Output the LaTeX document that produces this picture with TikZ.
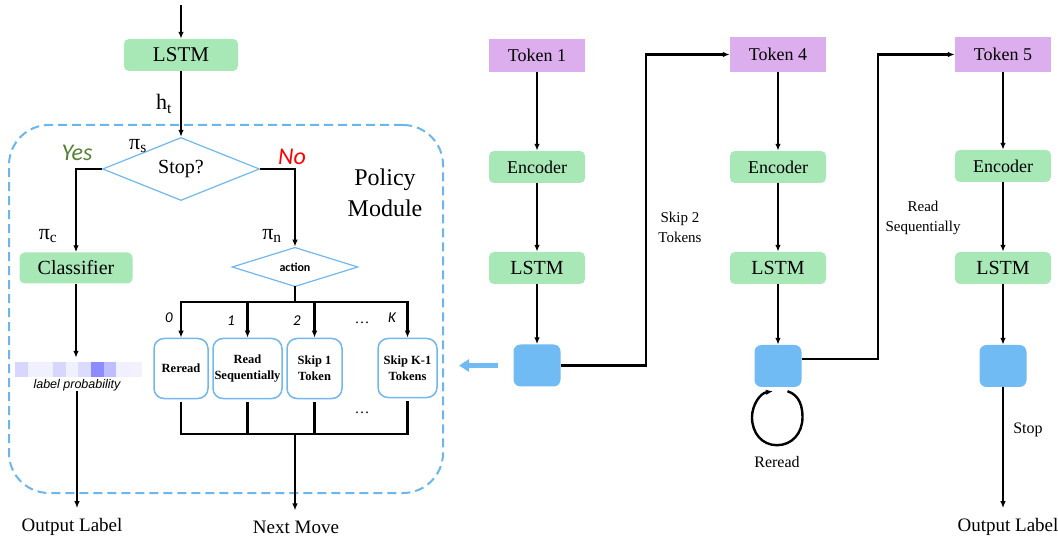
\documentclass[tikz,border=0pt]{standalone}
\usepackage{fontspec}
\setmainfont{Liberation Serif}
\newfontfamily\carlito{Carlito}
\newfontfamily\arialish{Liberation Sans}
\usepackage{xcolor}
\usepackage{tikz}
\usetikzlibrary{shapes.geometric,arrows.meta,calc}

\definecolor{cGreen}{RGB}{168,231,182}
\definecolor{cPurple}{RGB}{221,174,237}
\definecolor{cBlue}{RGB}{112,187,243}
\definecolor{cDash}{RGB}{108,182,238}
\definecolor{cEdge}{RGB}{112,184,238}
\definecolor{cYes}{RGB}{84,130,53}

\tikzstyle{tsPlain} = [
    inner sep=0pt,
    text=black
]
\tikzstyle{tsGreenBox} = [
    rectangle,
    rounded corners=5pt,
    fill=cGreen,
    inner sep=0pt,
    minimum height=32pt
]
\tikzstyle{tsTokenBox} = [
    rectangle,
    fill=cPurple,
    inner sep=0pt,
    minimum width=96pt,
    minimum height=33pt,
    font=\fontsize{18}{20}\selectfont
]
\tikzstyle{tsSquare} = [
    rectangle,
    rounded corners=7pt,
    fill=cBlue,
    inner sep=0pt,
    minimum width=47pt,
    minimum height=42pt
]
\tikzstyle{tsDiamond} = [
    diamond,
    draw=cEdge,
    line width=1.2pt,
    fill=white,
    inner sep=0pt
]
\tikzstyle{tsChoice} = [
    rectangle,
    rounded corners=10pt,
    draw=cEdge,
    line width=1.5pt,
    fill=white,
    inner sep=0pt,
    minimum height=60pt,
    align=center,
    font=\bfseries\fontsize{12.5}{16}\selectfont
]
\tikzstyle{tsPolicy} = [
    rectangle,
    rounded corners=40pt,
    draw=cDash,
    line width=2pt,
    dash pattern=on 9pt off 5pt,
    minimum width=434pt,
    minimum height=368pt
]
\tikzstyle{tsArrow} = [
    -{Latex[length=7pt,width=5.5pt]},
    line width=2pt
]
\tikzstyle{tsWire} = [
    line width=2.6pt,
    line cap=rect
]
\tikzstyle{tsEndLabel} = [
    inner xsep=0pt,
    inner ysep=10pt,
    font=\fontsize{19}{22}\selectfont
]

\begin{document}
\begin{tikzpicture}[x=1pt, y=-1pt]
        \useasboundingbox (0,0) rectangle (1058,537);

        % policy module
        \node[tsPolicy] (policy) at (226,309) {};
        \node[tsPlain, align=center, font=\fontsize{24}{31}\selectfont] (policyLbl) at (385,193) {Policy\\Module};

        \coordinate (inTop) at (181,5);
        \node[tsGreenBox, minimum width=114pt, font=\fontsize{21}{24}\selectfont] (lstmTop) at (181,55) {LSTM};
        \node[tsDiamond, minimum width=157pt, minimum height=42pt, font=\fontsize{20}{22}\selectfont] (stop) at (181,169) {Stop?};
        \node[tsGreenBox, minimum width=113pt, minimum height=31pt, font=\fontsize{20}{22}\selectfont] (classifier) at (76,268) {Classifier};
        \node[tsDiamond, minimum width=126pt, minimum height=30pt, font=\carlito\bfseries\fontsize{12}{14}\selectfont] (action) at (295,267) {action};

        \draw[tsArrow] (inTop) -- (lstmTop.north);
        \draw[tsArrow, line width=2.6pt] (lstmTop.south) -- (stop.north);
        \draw[tsArrow, line width=2.6pt] (stop.west) -| (classifier.north);
        \draw[tsArrow, line width=2.6pt] (stop.east) -| (action.north);

        \node[tsPlain, font=\fontsize{22}{24}\selectfont] (hLbl) at (164,104) {h\textsubscript{t}};
        \node[tsPlain, font=\fontsize{22}{24}\selectfont] (piS) at (138,146) {π\textsubscript{s}};
        \node[tsPlain, font=\fontsize{22}{24}\selectfont] (piC) at (48,236) {π\textsubscript{c}};
        \node[tsPlain, font=\fontsize{22}{24}\selectfont] (piN) at (272,236) {π\textsubscript{n}};
        \node[tsPlain, text=cYes, font=\carlito\itshape\fontsize{24}{26}\selectfont] (yesLbl) at (77,153) {Yes};
        \node[tsPlain, text=red, font=\carlito\itshape\fontsize{24}{26}\selectfont] (noLbl) at (292,157) {No};

        % label probability
        \node[tsPlain, minimum width=127pt, minimum height=15pt] (probbar) at (78.5,369.5) {};
        \foreach \c [count=\i from 0] in {blue!16, blue!6, blue!6, blue!16, blue!6, blue!14, blue!45, blue!26, blue!6, blue!5}
            \fill[\c] ($(probbar.west)+(\i*12.7,-7.5)$) rectangle ++(12.7,15);
        \node[tsPlain, font=\arialish\itshape\fontsize{12.5}{14}\selectfont] (lblprob) at (77,385) {label probability};
        \node[tsEndLabel] (outLeft) at (72,527) {Output Label};

        \draw[tsArrow] (classifier.south) -- ($(classifier.south |- probbar.north)+(0,-4)$);
        \draw[tsArrow] (lblprob.south) -- (lblprob.south |- outLeft.north);

        % actions
        \node[tsChoice, minimum width=54pt] (reread) at (181,368.5) {Reread};
        \node[tsChoice, minimum width=69pt] (readseq) at (247.5,368.5) {Read\\Sequentially};
        \node[tsChoice, minimum width=55pt] (skip1) at (314.5,368.5) {Skip 1\\Token};
        \node[tsChoice, minimum width=59pt, minimum height=59pt] (skipk) at (407.5,368) {Skip K-1\\Tokens};

        \coordinate (busT) at (295,302);
        \coordinate (busB) at (295,434);
        \draw[tsWire] (action.south) -- (busT);
        \draw[tsWire] (reread.north |- busT) -- (skipk.north |- busT);
        \draw[tsArrow, line width=2.6pt] (reread.north |- busT) -- (reread.north);
        \draw[tsArrow, line width=2.6pt] (readseq.north |- busT) -- (readseq.north);
        \draw[tsArrow, line width=2.6pt] (skip1.north |- busT) -- (skip1.north);
        \draw[tsArrow, line width=2.6pt] (skipk.north |- busT) -- (skipk.north);

        \node[tsPlain, font=\carlito\itshape\fontsize{15}{16}\selectfont] (n0) at (169,318) {0};
        \node[tsPlain, font=\carlito\itshape\fontsize{15}{16}\selectfont] (n1) at (231,321) {1};
        \node[tsPlain, font=\carlito\itshape\fontsize{15}{16}\selectfont] (n2) at (297,321) {2};
        \node[tsPlain, font=\fontsize{15}{16}\selectfont] (nDots) at (362,323) {\dots};
        \node[tsPlain, font=\carlito\itshape\fontsize{15}{16}\selectfont] (nK) at (392,318) {K};
        \node[tsPlain, font=\fontsize{15}{16}\selectfont] (bDots) at (362,413) {\dots};

        \draw[tsWire] ($(reread.south)+(0,4)$) |- (busB) -| ($(skipk.south)+(0,4)$);
        \draw[tsWire] ($(readseq.south)+(0,4)$) -- (readseq.south |- busB);
        \draw[tsWire] ($(skip1.south)+(0,4)$) -- (skip1.south |- busB);
        \node[tsEndLabel] (nextMove) at (296,527) {Next Move};
        \draw[tsArrow, line width=2.6pt] (busB) -- (busB |- nextMove.north);

        % token columns
        \node[tsTokenBox] (tok1) at (537,55.5) {Token 1};
        \node[tsGreenBox, minimum width=96pt, font=\fontsize{18}{20}\selectfont] (enc1) at (537,167) {Encoder};
        \node[tsGreenBox, minimum width=96pt, font=\fontsize{20}{22}\selectfont] (lstm1) at (537,268) {LSTM};
        \node[tsSquare] (sq1) at (537,365.5) {};

        \node[tsTokenBox, minimum height=35pt] (tok4) at (778,54.5) {Token 4};
        \node[tsGreenBox, minimum width=96pt, font=\fontsize{18}{20}\selectfont] (enc4) at (778,167) {Encoder};
        \node[tsGreenBox, minimum width=96pt, font=\fontsize{20}{22}\selectfont] (lstm4) at (778,268) {LSTM};
        \node[tsSquare] (sq4) at (778,366) {};

        \node[tsTokenBox, minimum height=35pt] (tok5) at (1003,54.5) {Token 5};
        \node[tsGreenBox, minimum width=96pt, font=\fontsize{18}{20}\selectfont] (enc5) at (1003,166) {Encoder};
        \node[tsGreenBox, minimum width=96pt, font=\fontsize{20}{22}\selectfont] (lstm5) at (1003,268) {LSTM};
        \node[tsSquare] (sq5) at (1003,366) {};

        \draw[tsArrow] (tok1.south) -- (enc1.north);
        \draw[tsArrow] (enc1.south) -- (lstm1.north);
        \draw[tsArrow] (lstm1.south) -- (sq1.north);
        \draw[tsArrow] (tok4.south) -- (enc4.north);
        \draw[tsArrow] (enc4.south) -- (lstm4.north);
        \draw[tsArrow] (lstm4.south) -- (sq4.north);
        \draw[tsArrow] (tok5.south) -- (enc5.north);
        \draw[tsArrow] (enc5.south) -- (lstm5.north);
        \draw[tsArrow] (lstm5.south) -- (sq5.north);

        \coordinate (bend1) at (646,54.5);
        \coordinate (bend4) at (878,54.5);
        \draw[tsArrow, line width=2.6pt] (sq1.east) -| (bend1) -- (tok4.west);
        \draw[tsArrow, line width=2.6pt] ($(sq4.east)+(0,-7)$) -| (bend4) -- (tok5.west);
        \node[tsPlain, align=center, font=\fontsize{15}{20}\selectfont] (skipLbl) at (680,227) {Skip 2\\Tokens};
        \node[tsPlain, align=center, font=\fontsize{15}{20}\selectfont] (seqLbl) at (923,218) {Read\\Sequentially};

        % reread loop
        \draw[tsArrow, line width=2.4pt] ($(sq4.south)+(9.5,4)$) .. controls ($(sq4.south)+(22,8)$) and ($(sq4.south)+(24.5,20)$) .. ($(sq4.south)+(24.5,30)$)
            .. controls ($(sq4.south)+(24.5,46)$) and ($(sq4.south)+(14,58)$) .. ($(sq4.south)+(-1,58)$)
            .. controls ($(sq4.south)+(-16,58)$) and ($(sq4.south)+(-26,46)$) .. ($(sq4.south)+(-26,30)$)
            .. controls ($(sq4.south)+(-26,18)$) and ($(sq4.south)+(-18,6)$) .. ($(sq4.south)+(-5,4)$);
        \node[tsPlain, font=\fontsize{16}{18}\selectfont] (rereadLbl) at (777,462) {Reread};

        \node[tsEndLabel] (outRight) at (1008,527) {Output Label};
        \draw[tsArrow] (sq5.south) -- (sq5.south |- outRight.north);
        \node[tsPlain, font=\fontsize{16}{18}\selectfont] (stopLbl) at (1028,430) {Stop};

        % hand over to policy module
        \draw[line width=4.5pt, cBlue, -{Triangle[length=10pt,width=12pt]}] ($(sq1.west)+(-15,0)$) -- ($(policy.east |- sq1.west)+(15,0)$);
\end{tikzpicture}
\end{document}
